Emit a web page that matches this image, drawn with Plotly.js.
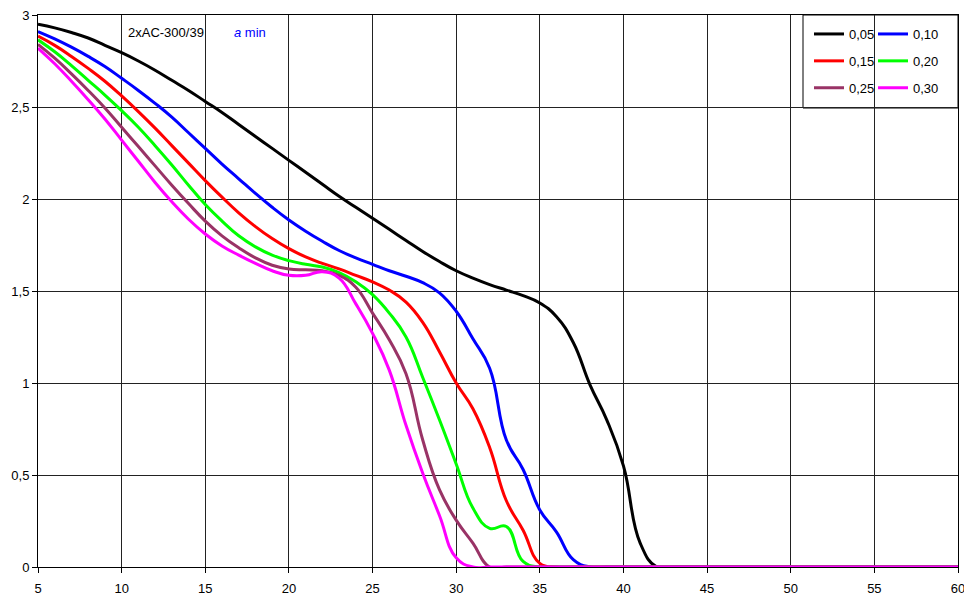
<!DOCTYPE html>
<html>
<head>
<meta charset="utf-8">
<script src="https://cdn.plot.ly/plotly-3.0.1.min.js"></script>
<style>
html,body{margin:0;padding:0;background:#fff;}
#chart{width:964px;height:596px;}
</style>
</head>
<body>
<div id="chart"></div>
<script>
// ---- data ----
const xValues = [5,6,7,8,9,10,11,12,13,14,15,16,17,18,19,20,21,22,23,24,25,26,27,28,29,30,31,32,33,34,35,36,37,38,39,40,41,42,43,44,45,46,47,48,49,50,51,52,53,54,55,56,57,58,59,60];

const s005 = [2.95,2.93,2.905,2.875,2.835,2.795,2.75,2.70,2.645,2.59,2.53,2.47,2.405,2.34,2.275,2.21,2.145,2.08,2.015,1.955,1.895,1.835,1.775,1.715,1.66,1.61,1.57,1.535,1.505,1.475,1.435,1.36,1.22,0.99,0.80,0.55,0.13,0,
  0,0,0,0,0,0,0,0,0,0,0,0,0,0,0,0,0,0];
const s010 = [2.91,2.87,2.825,2.775,2.72,2.656,2.59,2.52,2.445,2.36,2.275,2.19,2.11,2.03,1.955,1.886,1.825,1.77,1.72,1.68,1.645,1.61,1.58,1.545,1.49,1.39,1.24,1.08,0.69,0.53,0.31,0.19,0.04,0,
  0,0,0,0,0,0,0,0,0,0,0,0,0,0,0,0,0,0,0,0,0,0];
const s015 = [2.885,2.835,2.775,2.71,2.64,2.56,2.475,2.385,2.29,2.195,2.10,2.01,1.925,1.85,1.785,1.73,1.685,1.65,1.62,1.585,1.55,1.505,1.44,1.33,1.17,1.0,0.86,0.65,0.36,0.20,0.02,0,
  0,0,0,0,0,0,0,0,0,0,0,0,0,0,0,0,0,0,0,0,0,0,0,0];
const s020 = [2.865,2.80,2.725,2.645,2.565,2.48,2.39,2.29,2.185,2.075,1.97,1.88,1.80,1.74,1.695,1.665,1.645,1.63,1.60,1.55,1.48,1.38,1.25,1.03,0.80,0.56,0.32,0.21,0.22,0.03,0,
  0,0,0,0,0,0,0,0,0,0,0,0,0,0,0,0,0,0,0,0,0,0,0,0,0];
const s025 = [2.84,2.765,2.68,2.59,2.495,2.39,2.285,2.18,2.075,1.975,1.88,1.80,1.735,1.68,1.64,1.62,1.615,1.61,1.585,1.52,1.38,1.235,1.05,0.69,0.42,0.255,0.13,0,
  0,0,0,0,0,0,0,0,0,0,0,0,0,0,0,0,0,0,0,0,0,0,0,0,0,0,0,0];
const s030 = [2.82,2.735,2.64,2.54,2.435,2.32,2.205,2.09,1.985,1.89,1.81,1.745,1.695,1.65,1.61,1.585,1.585,1.605,1.57,1.43,1.27,1.07,0.77,0.51,0.28,0.05,0,
  0,0,0,0,0,0,0,0,0,0,0,0,0,0,0,0,0,0,0,0,0,0,0,0,0,0,0,0,0];

const seriesNames = ['0,05','0,10','0,15','0,20','0,25','0,30'];
const seriesColors = ['#000000','#0000FF','#FF0000','#00FF00','#993366','#FF00FF'];
const seriesValues = [s005,s010,s015,s020,s025,s030];

const xTickVals = [5,10,15,20,25,30,35,40,45,50,55,60];
const yTickVals = [0,0.5,1,1.5,2,2.5,3];
const yTickText = ['0','0,5','1','1,5','2','2,5','3'];

const chartLabel = '2xAC-300/39';
const chartLabel2 = '<i>a</i> min';

// ---- traces ----
const traces = seriesValues.map((vals, i) => ({
  type: 'scatter',
  mode: 'lines',
  x: xValues,
  y: vals,
  name: seriesNames[i],
  legend: (i % 2 === 0) ? 'legend' : 'legend2',
  legendgroup: 'g' + i,
  line: {color: seriesColors[i], width: 3, shape: 'spline', smoothing: 1.3},
  hoverinfo: 'x+y+name'
}));

const W = 964, H = 596;
const mL = 38, mR = 6, mT = 15, mB = 29;
const pw = W - mL - mR, ph = H - mT - mB;
const FONT = 'Liberation Sans, Arial, sans-serif';

const legendCommon = {
  orientation: 'v',
  bgcolor: 'rgba(0,0,0,0)',
  borderwidth: 0,
  font: {family: FONT, size: 13, color: '#000'},
  traceorder: 'grouped',
  tracegroupgap: 7,
  itemwidth: 30,
  yanchor: 'top',
  xanchor: 'left'
};

const layout = {
  width: W, height: H,
  margin: {l: mL, r: mR, t: mT, b: mB, pad: 0},
  paper_bgcolor: '#ffffff',
  plot_bgcolor: '#ffffff',
  font: {family: FONT, size: 13, color: '#000'},
  showlegend: true,
  legend: Object.assign({}, legendCommon, {x: (809 - mL) / pw, y: 1 - 4 / ph}),
  legend2: Object.assign({}, legendCommon, {x: (873 - mL) / pw, y: 1 - 4 / ph}),
  xaxis: {
    range: [5, 60],
    tickmode: 'array',
    tickvals: xTickVals,
    ticktext: xTickVals.map(String),
    ticks: 'outside', ticklen: 5, tickwidth: 1, tickcolor: '#000',
    ticklabelstandoff: 4,
    ticklabeloverflow: 'allow',
    showgrid: true, gridcolor: '#222', gridwidth: 1,
    showline: true, linecolor: '#000', linewidth: 1, mirror: true,
    zeroline: false,
    tickfont: {family: FONT, size: 13, color: '#000'},
    fixedrange: true
  },
  yaxis: {
    range: [0, 3],
    tickmode: 'array',
    tickvals: yTickVals,
    ticktext: yTickText,
    ticks: 'outside', ticklen: 5, tickwidth: 1, tickcolor: '#000',
    showgrid: true, gridcolor: '#222', gridwidth: 1,
    showline: true, linecolor: '#000', linewidth: 1, mirror: true,
    zeroline: false,
    tickfont: {family: FONT, size: 13, color: '#000'},
    fixedrange: true
  },
  shapes: [{
    type: 'rect', xref: 'paper', yref: 'paper',
    x0: (803 - mL) / pw, x1: 1,
    y0: 1 - (108 - mT) / ph, y1: 1,
    line: {color: '#000', width: 1},
    fillcolor: '#ffffff',
    layer: 'below'
  }],
  annotations: [
    {xref: 'paper', yref: 'paper', x: (126 - mL) / pw, y: 1 - (32 - mT) / ph,
     xanchor: 'left', yanchor: 'middle', showarrow: false,
     text: chartLabel, font: {family: FONT, size: 13, color: '#000'}},
    {xref: 'paper', yref: 'paper', x: (232 - mL) / pw, y: 1 - (32 - mT) / ph,
     xanchor: 'left', yanchor: 'middle', showarrow: false,
     text: chartLabel2, font: {family: FONT, size: 13, color: '#0000FF'}}
  ]
};

Plotly.newPlot('chart', traces, layout, {displayModeBar: false, staticPlot: true});
</script>
</body>
</html>
